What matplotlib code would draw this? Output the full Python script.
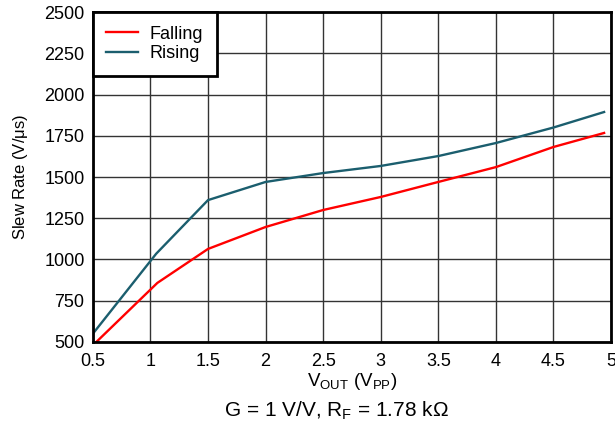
import matplotlib.pyplot as plt

plt.rcParams['font.family'] = ['Liberation Sans', 'DejaVu Sans']
plt.rcParams['mathtext.fontset'] = 'custom'
plt.rcParams['mathtext.rm'] = 'Liberation Sans'
plt.rcParams['mathtext.it'] = 'Liberation Sans'

# data
vout_fall = [0.53, 1.06, 1.5, 2.0, 2.5, 3.0, 3.5, 4.0, 4.5, 4.94]
slew_fall = [500, 858, 1064, 1197, 1300, 1379, 1470, 1560, 1682, 1767]
vout_rise = [0.5, 1.05, 1.5, 2.0, 2.5, 3.0, 3.5, 4.0, 4.5, 4.94]
slew_rise = [550, 1035, 1360, 1470, 1524, 1567, 1627, 1706, 1800, 1894]

xticks = [0.5, 1, 1.5, 2, 2.5, 3, 3.5, 4, 4.5, 5]
xtick_labels = ['0.5', '1', '1.5', '2', '2.5', '3', '3.5', '4', '4.5', '5']
yticks = [500, 750, 1000, 1250, 1500, 1750, 2000, 2250, 2500]

fig = plt.figure(figsize=(6.15, 4.3), dpi=100)
ax = fig.add_axes([0.151, 0.2047, 0.8425, 0.7673])

ax.plot(vout_fall, slew_fall, color='#ff0000', lw=1.7, label='Falling')
ax.plot(vout_rise, slew_rise, color='#1b5e6e', lw=1.7, label='Rising')

ax.set_xlim(0.5, 5)
ax.set_ylim(500, 2500)
ax.set_xticks(xticks)
ax.set_xticklabels(xtick_labels)
ax.set_yticks(yticks)
ax.tick_params(length=0, labelsize=13)
ax.tick_params(axis='x', pad=8)
ax.tick_params(axis='y', pad=6)
ax.grid(True, color='#333333', lw=1)
ax.set_axisbelow(True)
for s in ax.spines.values():
    s.set_linewidth(2)
    s.set_color('black')

ax.set_xlabel(r'V$_{\mathrm{OUT}}$ (V$_{\mathrm{PP}}$)', fontsize=13.5, labelpad=1)
ax.set_ylabel(r'Slew Rate (V/$\mathrm{\mu}$s)', fontsize=12, labelpad=10)

leg = ax.legend(loc='upper left', fontsize=13, fancybox=False, framealpha=1,
                edgecolor='black', borderaxespad=0, handlelength=1.75,
                handletextpad=0.65, borderpad=0.75, labelspacing=0.15)
leg.get_frame().set_linewidth(2)

fig.text(0.547, 0.045, r'G = 1 V/V, R$_{\mathrm{F}}$ = 1.78 k$\Omega$', fontsize=15,
         ha='center', va='center')

fig.savefig('out.png', dpi=100)
